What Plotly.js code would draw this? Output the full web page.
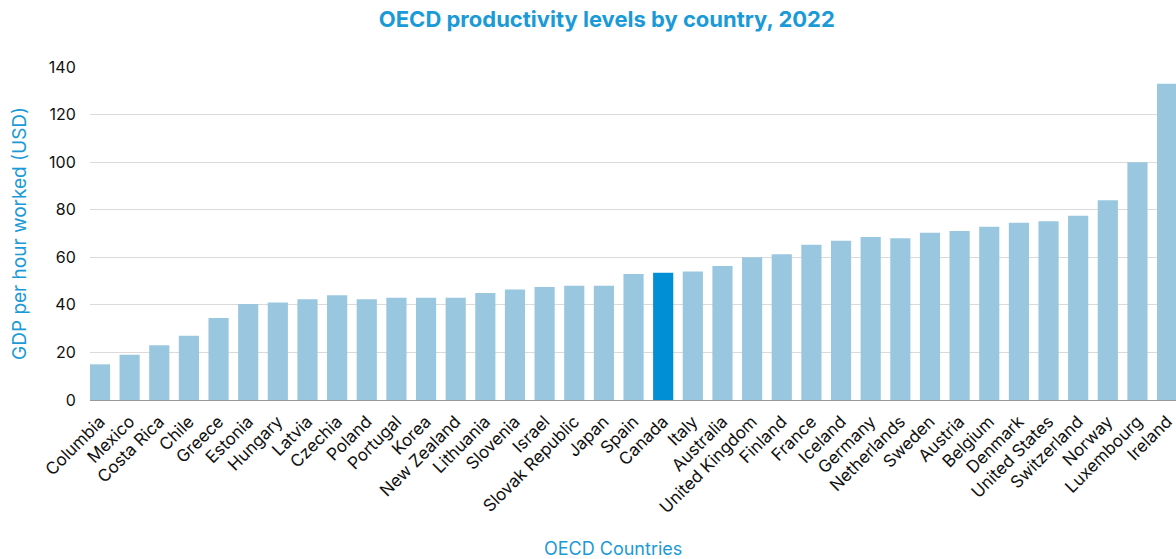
<!DOCTYPE html>
<html>
<head>
<meta charset="utf-8">
<script src="https://cdn.plot.ly/plotly-3.0.1.min.js"></script>
<style>html,body{margin:0;padding:0;background:#fff;}#chart{width:1176px;height:559px;}</style>
</head>
<body>
<div id="chart"></div>
<script>
const countries = ["Columbia","Mexico","Costa Rica","Chile","Greece","Estonia","Hungary","Latvia","Czechia","Poland","Portugal","Korea","New Zealand","Lithuania","Slovenia","Israel","Slovak Republic","Japan","Spain","Canada","Italy","Australia","United Kingdom","Finland","France","Iceland","Germany","Netherlands","Sweden","Austria","Belgium","Denmark","United States","Switzerland","Norway","Luxembourg","Ireland"];
const gdpPerHour = [15,19,23,27,34.5,40.4,41,42.4,44,42.4,43,43,43,45,46.5,47.5,48,48,53,53.5,54,56.3,60,61.3,65.3,67,68.5,68,70.3,71,72.8,74.5,75.2,77.5,84,100,133];
const highlight = "Canada";
const colors = countries.map(c => c === highlight ? "#008fd5" : "#98c7df");
const blue = "#1a9ad6";

Plotly.newPlot("chart", [{
  type: "bar",
  x: countries,
  y: gdpPerHour,
  marker: {color: colors, line: {width: 0}},
  hoverinfo: "x+y"
}], {
  width: 1176, height: 559,
  margin: {l: 90, r: 0, t: 67, b: 159},
  paper_bgcolor: "#fff", plot_bgcolor: "#fff",
  bargap: 0.32,
  showlegend: false,
  font: {family: "Inter, 'Open Sans', sans-serif", color: "#111", size: 16},
  title: {text: "<b>OECD productivity levels by country, 2022</b>", font: {size: 22, color: blue}, x: 0.516, xanchor: "center", y: 0.965, yanchor: "middle"},
  xaxis: {
    type: "category",
    range: [-0.337, 36.3],
    tickangle: -45,
    tickfont: {size: 17, color: "#111"},
    showline: true, linecolor: "#999", linewidth: 1,
    ticks: "outside", ticklen: 4, tickcolor: "rgba(0,0,0,0)",
    showgrid: false,
    automargin: false
  },
  yaxis: {
    range: [0, 140],
    dtick: 20,
    gridcolor: "#dadada", gridwidth: 1,
    zeroline: false,
    tickfont: {size: 16, color: "#111"},
    ticks: "outside", ticklen: 10, tickcolor: "rgba(0,0,0,0)",
    title: {text: "GDP per hour worked (USD)", font: {size: 19, color: blue}, standoff: 17},
    automargin: false
  },
  annotations: [{
    text: "OECD Countries", showarrow: false,
    xref: "paper", yref: "paper", x: 0.4816, y: -0.445,
    xanchor: "center", yanchor: "middle",
    font: {size: 18, color: blue}
  }]
}, {displayModeBar: false, staticPlot: true});
</script>
</body>
</html>
